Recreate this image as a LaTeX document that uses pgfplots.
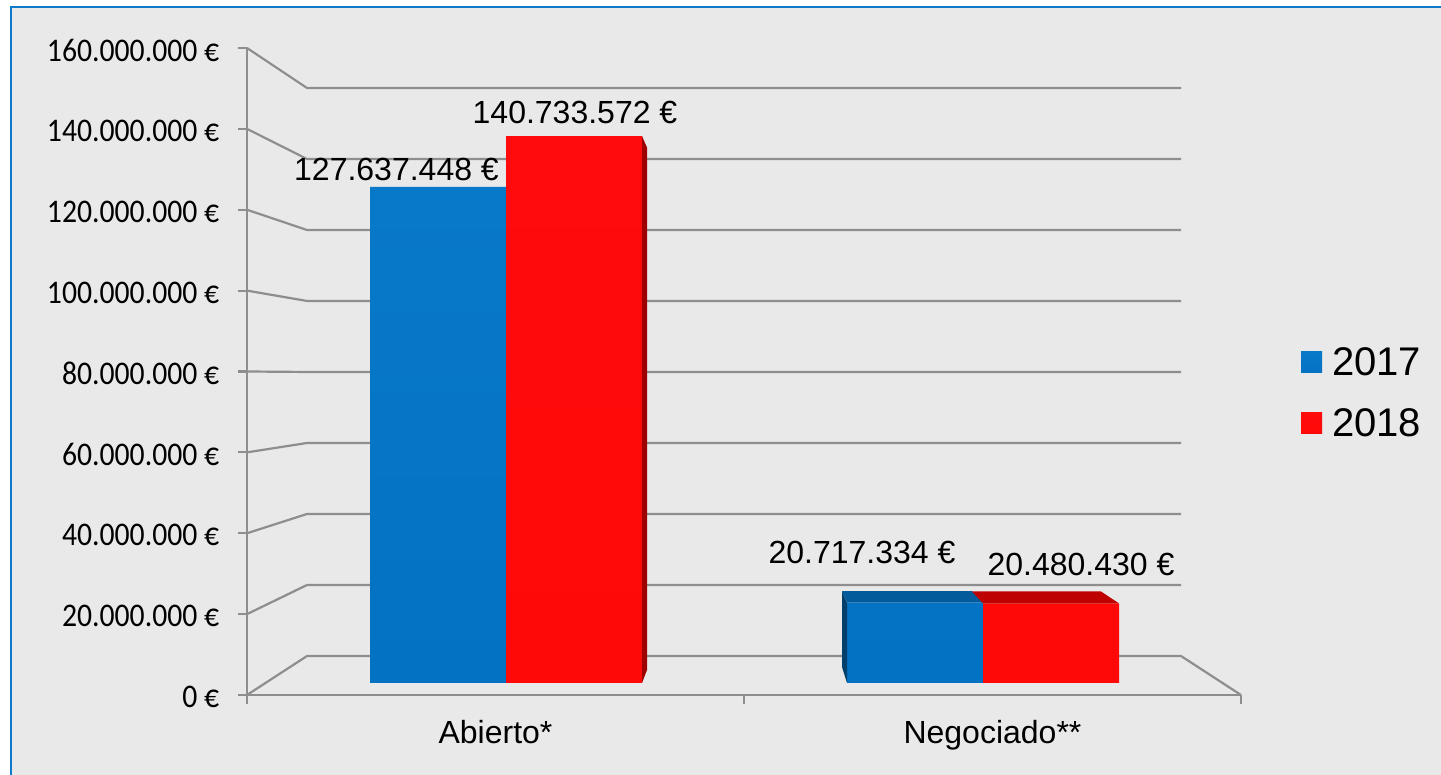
\documentclass[border=0pt]{standalone}
\usepackage{fontspec}
\setmainfont{Liberation Sans}
\newfontfamily\tickfont[FakeStretch=0.9]{Carlito}
\usepackage{pgfplots}
\pgfplotsset{compat=1.18}
\definecolor{gridc}{HTML}{8E8E8E}
\definecolor{bgc}{HTML}{E9E9E9}
\definecolor{framec}{HTML}{0F7AC8}
\definecolor{blueA}{HTML}{0878C9}
\definecolor{blueB}{HTML}{0472C3}
\definecolor{redA}{HTML}{FF0B0B}
\definecolor{redB}{HTML}{FF0808}
\newcommand{\fs}[1]{\fontsize{#1pt}{#1pt}\selectfont}
\begin{document}
\begin{tikzpicture}
\path[use as bounding box] (0pt,0pt) rectangle (720.5pt,387.5pt);
\fill[bgc] (5pt,0pt) rectangle (720.5pt,384pt);
\draw[framec,line width=1pt] (5.25pt,0pt) -- (5.25pt,384pt) -- (720.5pt,384pt);
% front planes and back wall
\begin{axis}[
  at={(123.5pt,40pt)},anchor=south west,scale only axis,
  width=497pt,height=323.5pt,
  xmin=0,xmax=2,ymin=0,ymax=160000000,
  scaled y ticks=false,
  axis y line=left,axis x line=bottom,
  axis line style={-,gridc,line width=1.1pt},
  tick style={gridc,line width=1.1pt},
  tick align=outside,
  major tick length=4.5pt,
  xtick={0,1,2},xticklabels={,,},
  extra x ticks={0.5,1.5},
  extra x tick labels={Abierto*,Negociado**},
  extra x tick style={major tick length=0pt,tick label style={font=\fs{16},yshift=-9pt}},
  ytick={0,20000000,40000000,60000000,80000000,100000000,120000000,140000000,160000000},
  yticklabels={0 €,20.000.000 €,40.000.000 €,60.000.000 €,80.000.000 €,100.000.000 €,120.000.000 €,140.000.000 €,160.000.000 €},
  yticklabel style={font=\tickfont\fs{16.5},inner sep=0pt,xshift=-9.2pt,yshift=-1pt},
  clip=false,
]
\addplot[gridc,line width=1.1pt] coordinates {(0,0)(0.1207,9640000)(1.8793,9640000)(2,0)};
\addplot[gridc,line width=1.1pt] coordinates {(0,20000000)(0.1207,27200000)(1.8793,27200000)};
\addplot[gridc,line width=1.1pt] coordinates {(0,40000000)(0.1207,44760000)(1.8793,44760000)};
\addplot[gridc,line width=1.1pt] coordinates {(0,60000000)(0.1207,62320000)(1.8793,62320000)};
\addplot[gridc,line width=1.1pt] coordinates {(0,80000000)(0.1207,79880000)(1.8793,79880000)};
\addplot[gridc,line width=1.1pt] coordinates {(0,100000000)(0.1207,97440000)(1.8793,97440000)};
\addplot[gridc,line width=1.1pt] coordinates {(0,120000000)(0.1207,114990000)(1.8793,114990000)};
\addplot[gridc,line width=1.1pt] coordinates {(0,140000000)(0.1207,132550000)(1.8793,132550000)};
\addplot[gridc,line width=1.1pt] coordinates {(0,160000000)(0.1207,150110000)(1.8793,150110000)};
\end{axis}
% bars: x in pixels of the picture, y in euros
\begin{axis}[
  at={(123.5pt,46pt)},anchor=south west,scale only axis,
  width=497pt,height=310.89pt,
  xmin=247,xmax=1241,ymin=0,ymax=160000000,
  hide axis,clip=false,
  legend style={at={(1.0605,0.466)},anchor=west,draw=none,fill=none,font=\fs{20},
    inner sep=0pt,outer sep=0pt,row sep=11pt},
  legend cell align=left,
  legend image code/.code={\fill[#1,draw=none] (0pt,-5pt) rectangle (10.5pt,5.5pt);\path (0pt,0pt) -- (13.5pt,0pt);},
]
\addplot[ybar,bar width=68pt,bar shift=-34pt,draw=none,bottom color=blueB,top color=blueA] coordinates {(506,127637448)(983,20717334)};
\addplot[ybar,bar width=68pt,bar shift=34pt,draw=none,bottom color=redB,top color=redA] coordinates {(506,140733572)(983,20480430)};
\addlegendentry{2017}
\addlegendentry{2018}
\addplot[forget plot,draw=none,fill=red!62!black] coordinates {(642,140733572)(647,137800000)(647,3350000)(642,0)(642,140733572)};
\addplot[forget plot,draw=none,fill=blueB!55!black] coordinates {(842,23670000)(847,20717334)(847,0)(842,4120000)(842,23670000)};
\addplot[forget plot,draw=none,fill=blueB!80!black] coordinates {(842,23670000)(972,23670000)(983,20717334)(847,20717334)(842,23670000)};
\addplot[forget plot,draw=none,fill=red!75!black] coordinates {(972,23550000)(1101,23550000)(1119,20480430)(983,20480430)(972,23550000)};
\end{axis}
\node[font=\fs{16},anchor=base,inner sep=0pt] at (198.25pt,297pt) {127.637.448 €};
\node[font=\fs{16},anchor=base,inner sep=0pt] at (287.5pt,325.6pt) {140.733.572 €};
\node[font=\fs{16},anchor=base,inner sep=0pt] at (431pt,105.5pt) {20.717.334 €};
\node[font=\fs{16},anchor=base,inner sep=0pt] at (540.5pt,99.5pt) {20.480.430 €};
\end{tikzpicture}
\end{document}
